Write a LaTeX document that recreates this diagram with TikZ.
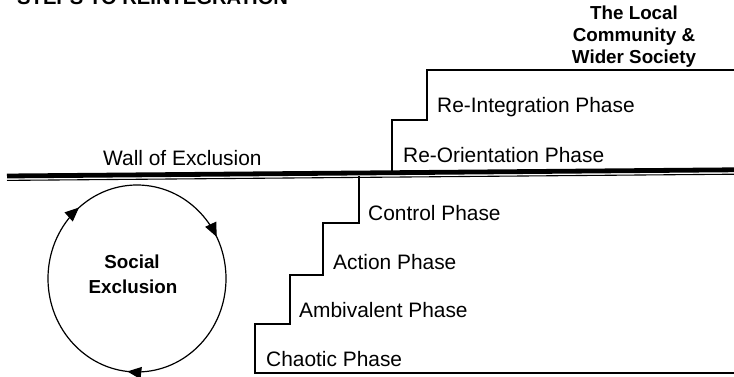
\documentclass[tikz,border=0pt]{standalone}
\usepackage{fontspec}
\setmainfont{Liberation Sans}
\usetikzlibrary{arrows.meta,decorations.markings}
\begin{document}
\begin{tikzpicture}[x=1pt,y=-1pt,
  lbl/.style={inner sep=0pt, anchor=base west, font=\fontsize{20.9}{24}\selectfont},
  bld/.style={inner sep=0pt, anchor=base, font=\fontsize{18.8}{22}\selectfont\bfseries},
  stair/.style={line width=1.3pt},
  wallthick/.style={line width=4.8pt},
  wallthin/.style={line width=1.1pt},
  cyc/.style={line width=1.2pt, postaction=decorate,
    decoration={markings,
      mark=at position 0.267 with {\arrow{Triangle[length=14pt,width=12pt]}},
      mark=at position 0.639 with {\arrow{Triangle[length=14pt,width=12pt]}},
      mark=at position 0.925 with {\arrow{Triangle[length=14pt,width=12pt]}}}},
]
\useasboundingbox (0,0) rectangle (734,377);
\fill[white] (0,0) rectangle (734,377);

% title (cut at the top edge, as in the original)
\node[inner sep=0pt, anchor=base west, font=\fontsize{20.2}{24}\selectfont\bfseries] (title) at (17,5) {STEPS TO REINTEGRATION};

% wall of exclusion
\coordinate (wl) at (7,176);
\coordinate (wr) at (734,169.8);
\coordinate (tl) at (7,180.4);
\coordinate (tr) at (734,174.2);
\draw[wallthick] (wl) -- (wr);
\draw[wallthin] (tl) -- (tr);
\node[lbl] (wall) at (103,166) {Wall of Exclusion};

% upper staircase
\coordinate (u0) at (392,171);
\coordinate (u1) at (392,120);
\coordinate (u2) at (427,120);
\coordinate (u3) at (427,70);
\coordinate (u4) at (734,70);
\draw[stair] (u0) -- (u1) -- (u2) -- (u3) -- (u4);
\node[lbl] (reor) at (403,162.3) {Re-Orientation Phase};
\node[lbl] (reint) at (437,112.7) {Re-Integration Phase};

\node[bld] (lc1) at (634,20) {The Local};
\node[bld] (lc2) at (634,41.7) {Community \&};
\node[bld] (lc3) at (634,63.3) {Wider Society};

% lower staircase
\coordinate (d0) at (359,176.5);
\coordinate (d1) at (359,223);
\coordinate (d2) at (323,223);
\coordinate (d3) at (323,275);
\coordinate (d4) at (290,275);
\coordinate (d5) at (290,324);
\coordinate (d6) at (255,324);
\coordinate (d7) at (255,373);
\coordinate (d8) at (734,373);
\draw[stair] (d0) -- (d1) -- (d2) -- (d3) -- (d4) -- (d5) -- (d6) -- (d7) -- (d8);
\node[lbl] (ctrl) at (368,220) {Control Phase};
\node[lbl] (act) at (333,269) {Action Phase};
\node[lbl] (amb) at (299,317.5) {Ambivalent Phase};
\node[lbl] (chao) at (266,366.5) {Chaotic Phase};

% social exclusion cycle
\coordinate (sec) at (137,278.5);
\draw[cyc] (sec) ellipse [x radius=89, y radius=93.5];
\node[bld] (soc1) at (132,268.3) {Social};
\node[bld] (soc2) at (133,293.3) {Exclusion};
\end{tikzpicture}
\end{document}
